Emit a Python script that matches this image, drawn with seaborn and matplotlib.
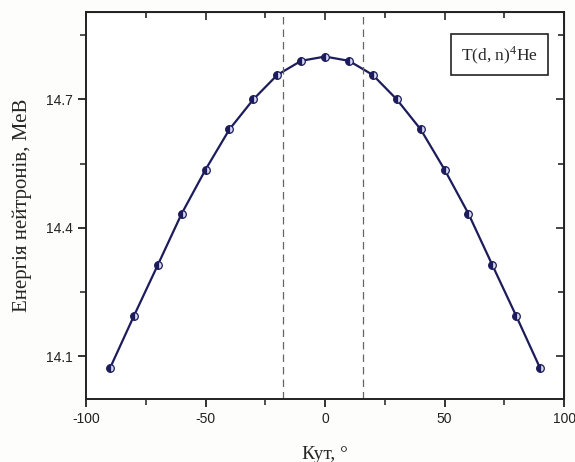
import numpy as np
import pandas as pd
import seaborn as sns
import matplotlib.pyplot as plt
from matplotlib.ticker import MultipleLocator

angles = [-90, -80, -70, -60, -50, -40, -30, -20, -10, 0, 10, 20, 30, 40, 50, 60, 70, 80, 90]
energy = [14.072, 14.194, 14.313, 14.433, 14.536, 14.630, 14.700, 14.757, 14.790, 14.800,
          14.790, 14.757, 14.700, 14.630, 14.536, 14.433, 14.313, 14.194, 14.072]
dashed_x = [-17.5, 16.0]
xticks = [-100, -50, 0, 50, 100]
yticks = [14.1, 14.4, 14.7]

sns.set_style("ticks")
plt.rcParams['font.family'] = ['Liberation Sans', 'DejaVu Sans']
plt.rcParams['mathtext.fontset'] = 'stix'

df = pd.DataFrame({"angle": angles, "energy": energy})

fig = plt.figure(figsize=(5.75, 4.62), dpi=100)
fig.patch.set_facecolor('#fdfdfb')
ax = fig.add_axes([0.1496, 0.136, 0.8314, 0.838])
ax.set_facecolor('white')

navy = '#1c1c5c'
sns.lineplot(data=df, x="angle", y="energy", ax=ax, color=navy, lw=1.6,
             marker='o', markersize=5.5, markeredgecolor=navy, markeredgewidth=0.9,
             fillstyle='left', markerfacecoloralt='#d8d8ee')

for xv in dashed_x:
    ax.axvline(xv, color='#666666', lw=0.9, ls=(0, (6, 4)))

ax.set_xlim(-100, 100)
ax.set_ylim(14.0, 14.904)
ax.set_xticks(xticks)
ax.set_yticks(yticks)
ax.xaxis.set_minor_locator(MultipleLocator(25))
ax.yaxis.set_minor_locator(MultipleLocator(0.15))
ax.set_xticklabels([str(t) for t in xticks])
ax.set_yticklabels([f"{t:.1f}" for t in yticks])

for s in ax.spines.values():
    s.set_linewidth(1.4)
    s.set_color('#222222')
ax.tick_params(which='major', direction='out', length=6, width=1.3, labelsize=10,
               top=False, right=False, colors='#222222')
ax.tick_params(which='minor', direction='out', length=4, width=1.1, colors='#222222')

axt = ax.secondary_xaxis('top')
axt.set_xticks(xticks)
axt.xaxis.set_minor_locator(MultipleLocator(25))
axt.tick_params(which='both', direction='in', length=6, width=1.2, labeltop=False)
axt.tick_params(which='minor', length=4)
axr = ax.secondary_yaxis('right')
axr.set_yticks(yticks)
axr.yaxis.set_minor_locator(MultipleLocator(0.15))
axr.tick_params(which='both', direction='in', length=6, width=1.2, labelright=False)
axr.tick_params(which='minor', length=4)

ax.set_xlabel("Кут, °", family=['Liberation Serif', 'DejaVu Serif'], fontsize=14, labelpad=14)
ax.set_ylabel("Енергія нейтронів, МеВ", family=['Liberation Serif', 'DejaVu Serif'], fontsize=15, labelpad=10)

ax.text(0.865, 0.89, r"T(d, n)$^{\mathregular{4}}$He", transform=ax.transAxes, ha='center', va='center',
        family=['Liberation Serif', 'DejaVu Serif'], fontsize=12.5,
        bbox=dict(boxstyle='square,pad=0.55', fc='white', ec='#222222', lw=1.2))

fig.savefig("out.png", dpi=100, facecolor=fig.get_facecolor())
